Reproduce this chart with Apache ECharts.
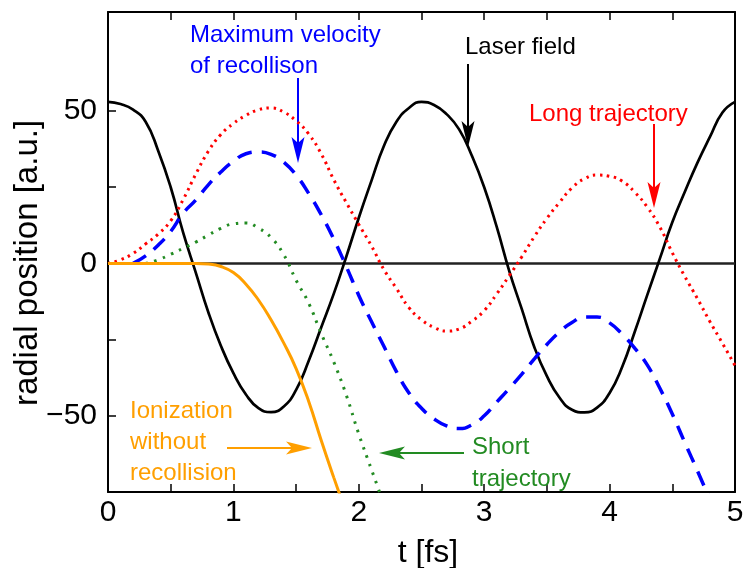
<!DOCTYPE html>
<html>
<head>
<meta charset="utf-8">
<script src="https://cdn.jsdelivr.net/npm/echarts@6/dist/echarts.min.js"></script>
<style>html,body{margin:0;padding:0;background:#fff}#chart{width:744px;height:568px}</style>
</head>
<body>
<div id="chart"></div>
<script>
// time grid [fs]
var tAll = [0, 0.1, 0.2, 0.3, 0.4, 0.5, 0.6, 0.7, 0.8, 0.9, 1.0, 1.1, 1.2, 1.3, 1.4, 1.5, 1.6, 1.7, 1.8, 1.9,
  2.0, 2.1, 2.2, 2.3, 2.4, 2.5, 2.6, 2.7, 2.8, 2.9, 3.0, 3.1, 3.2, 3.3, 3.4, 3.5, 3.6, 3.7, 3.8, 3.9,
  4.0, 4.1, 4.2, 4.3, 4.4, 4.5, 4.6, 4.7, 4.8, 4.9, 5.0];
var laserField = [53, 52.3, 50.5, 46.5, 37, 25, 10, -3, -16, -27, -36, -43, -47.5, -48.8, -47, -41.5, -32, -21, -10, 2.2,
  15, 27, 38.5, 46.5, 51, 53, 52, 49, 44, 35.5, 25, 12, -2.5, -15, -27.5, -37, -44, -48, -48.9, -47.3,
  -42.5, -34, -22.5, -10.4, 1.5, 13.5, 23.5, 33, 41.5, 49.5, 53];
var longTraj = [0, 1.2, 3.3, 6.4, 9.6, 14, 21, 29.3, 36.8, 42.3, 45.9, 48.6, 50.4, 51, 49.7, 46.8, 42.5, 36, 27.5, 20,
  12.8, 5.8, -2, -8.2, -14.5, -18.5, -21, -22.2, -21.5, -19, -15.5, -10, -4, 2.2, 8.8, 14.8, 20, 24.8, 27.8, 29,
  28.6, 27, 23.4, 18.5, 12, 3.5, -4.3, -11.5, -19.1, -26.2, -33.5];

var blueT = [0.2, 0.3, 0.4, 0.5, 0.6, 0.7, 0.8, 0.9, 1.0, 1.1, 1.2, 1.3, 1.4, 1.5, 1.6, 1.7, 1.8, 1.9,
  2.0, 2.1, 2.2, 2.3, 2.4, 2.5, 2.6, 2.7, 2.8, 2.9, 3.0, 3.1, 3.2, 3.3, 3.4, 3.5, 3.6, 3.7, 3.8, 3.9,
  4.0, 4.1, 4.2, 4.3, 4.4, 4.5, 4.6, 4.7, 4.8];
var maxVelocity = [0, 2.5, 6, 10.5, 16.5, 20.8, 25.8, 30, 33.5, 36, 36.6, 35.8, 33.3, 29, 23, 16, 8, -1,
  -10.5, -19, -27.2, -35.5, -42.5, -47.5, -51, -53.3, -54.2, -53, -50, -45.5, -41, -36.3, -31.3, -26.6, -22.5, -19.4, -17.6, -17.6,
  -19.5, -23.2, -27.8, -33.3, -40.9, -49.4, -58.8, -68, -77.5];

var shortT = [0.3, 0.4, 0.5, 0.6, 0.7, 0.8, 0.9, 1.0, 1.1, 1.2, 1.3, 1.4, 1.5, 1.6, 1.7, 1.8, 1.9, 2.0, 2.1, 2.2];
var shortTraj = [0, 1.2, 3, 5, 7, 9.3, 11.5, 13, 13.3, 11.6, 8.5, 3, -5.5, -13, -23, -32.3, -43.2, -56, -67.5, -79];

var ionT = [0, 0.1, 0.2, 0.3, 0.4, 0.5, 0.6, 0.7, 0.8, 0.9, 1.0, 1.1, 1.2, 1.3, 1.4, 1.5, 1.6, 1.7, 1.8, 1.9];
var ionization = [0, 0, 0, 0, 0, 0, 0, 0, -0.2, -1, -3, -6.8, -12, -18.5, -26, -34.5, -45.2, -58, -70.2, -82];

var zeroT = [0, 5];
var zeroV = [0, 0];

var yLabelTicks = [-50, 0, 50];
var yMinorTicks = [-50, -25, 0, 25, 50];

function pairs(xs, ys) {
  var out = [];
  for (var i = 0; i < xs.length; i++) out.push([xs[i], ys[i]]);
  return out;
}

function arrow(x1, y1, x2, y2, color) {
  var dx = x2 - x1, dy = y2 - y1;
  var len = Math.sqrt(dx * dx + dy * dy);
  var ux = dx / len, uy = dy / len;
  var hl = 26, hw = 6.5, notch = 6;
  var bx = x2 - ux * hl, by = y2 - uy * hl;
  var nx = x2 - ux * (hl - notch), ny = y2 - uy * (hl - notch);
  return {
    type: 'group',
    z: 100,
    children: [
      { type: 'line', shape: { x1: x1, y1: y1, x2: nx, y2: ny }, style: { stroke: color, lineWidth: 2 } },
      { type: 'polygon', shape: { points: [[x2, y2], [bx - uy * hw, by + ux * hw], [nx, ny], [bx + uy * hw, by - ux * hw]] },
        style: { fill: color } }
    ]
  };
}

function label(text, x, y, color, lh) {
  return {
    type: 'text', x: x, y: y, z: 100,
    style: { text: text, fill: color, font: '24px "Liberation Sans", Arial, sans-serif',
      lineHeight: lh || 31, align: 'left', verticalAlign: 'top' }
  };
}

var FONT = '"Liberation Sans", Arial, sans-serif';
var chart = echarts.init(document.getElementById('chart'));

var option = {
  animation: false,
  backgroundColor: '#fff',
  grid: { left: 108, right: 9, top: 12, bottom: 76, containLabel: false, outerBoundsMode: 'none' },
  xAxis: [
    {
      type: 'value', min: 0, max: 5, interval: 0.5,
      axisLine: { onZero: false, lineStyle: { color: '#000', width: 2 } },
      axisTick: { inside: true, length: 8, lineStyle: { color: '#000', width: 1.5 } },
      axisLabel: {
        margin: 6, color: '#000', fontSize: 30, fontFamily: FONT,
        formatter: function (v) { return Math.abs(v - Math.round(v)) < 1e-6 ? String(Math.round(v)) : ''; }
      },
      splitLine: { show: false }
    },
    {
      type: 'value', min: 0, max: 5, interval: 0.5, position: 'top',
      axisLine: { onZero: false, lineStyle: { color: '#000', width: 2 } },
      axisTick: { inside: true, length: 8, lineStyle: { color: '#000', width: 1.5 } },
      axisLabel: { show: false },
      splitLine: { show: false }
    }
  ],
  yAxis: [
    {
      type: 'value', min: -75, max: 82.5, interval: 25,
      axisLine: { show: true, onZero: false, lineStyle: { color: '#000', width: 2 } },
      axisTick: { show: true, inside: true, length: 8, customValues: yMinorTicks, lineStyle: { color: '#000', width: 1.5 } },
      axisLabel: {
        margin: 11, color: '#000', fontSize: 30, fontFamily: FONT, customValues: yLabelTicks,
        formatter: function (v) { return v < 0 ? '\u2212' + Math.abs(v) : String(v); }
      },
      splitLine: { show: false }
    },
    {
      type: 'value', min: -75, max: 82.5, position: 'right',
      axisLine: { show: true, onZero: false, lineStyle: { color: '#000', width: 2 } },
      axisTick: { show: false },
      axisLabel: { show: false },
      splitLine: { show: false }
    }
  ],
  series: [
    {
      name: 'zero', type: 'line', data: pairs(zeroT, zeroV), showSymbol: false, z: 1,
      lineStyle: { color: '#222', width: 2.5 }
    },
    {
      name: 'Laser field', type: 'line', data: pairs(tAll, laserField), smooth: true, showSymbol: false, z: 3,
      lineStyle: { color: '#000', width: 2.7 }
    },
    {
      name: 'Long trajectory', type: 'line', data: pairs(tAll, longTraj), smooth: true, showSymbol: false, z: 4,
      lineStyle: { color: '#ff0000', width: 3, type: [2.5, 4.5] }
    },
    {
      name: 'Short trajectory', type: 'line', data: pairs(shortT, shortTraj), smooth: true, showSymbol: false, z: 4,
      lineStyle: { color: '#228b22', width: 3, type: [2.5, 6.5] }
    },
    {
      name: 'Maximum velocity of recollison', type: 'line', data: pairs(blueT, maxVelocity), smooth: true, showSymbol: false, z: 5,
      lineStyle: { color: '#0000ff', width: 3.5, type: [15, 10] }
    },
    {
      name: 'Ionization without recollision', type: 'line', data: pairs(ionT, ionization), smooth: true, showSymbol: false, z: 6,
      lineStyle: { color: '#ff9f00', width: 3 }
    }
  ],
  graphic: [
    {
      type: 'text', x: 28, y: 263, rotation: Math.PI / 2, z: 100,
      style: { text: 'radial position [a.u.]', fill: '#000', font: '33px ' + FONT, align: 'center', verticalAlign: 'middle' }
    },
    {
      type: 'text', x: 428, y: 553, z: 100,
      style: { text: 't [fs]', fill: '#000', font: '32px ' + FONT, align: 'center', verticalAlign: 'middle' }
    },
    label('Maximum velocity\nof recollison', 190, 20, '#0000ff'),
    arrow(298, 78, 298, 163, '#0000ff'),
    label('Laser field', 465, 32, '#000'),
    arrow(468, 64, 468, 147, '#000'),
    label('Long trajectory', 529, 99, '#ff0000'),
    arrow(654, 124, 654, 208, '#ff0000'),
    label('Ionization\nwithout\nrecollision', 130, 396, '#ff9f00'),
    arrow(227, 448, 312, 448, '#ff9f00'),
    label('Short\ntrajectory', 472, 431, '#228b22', 32),
    arrow(464, 453, 379, 453, '#228b22')
  ]
};

chart.setOption(option);
</script>
</body>
</html>
